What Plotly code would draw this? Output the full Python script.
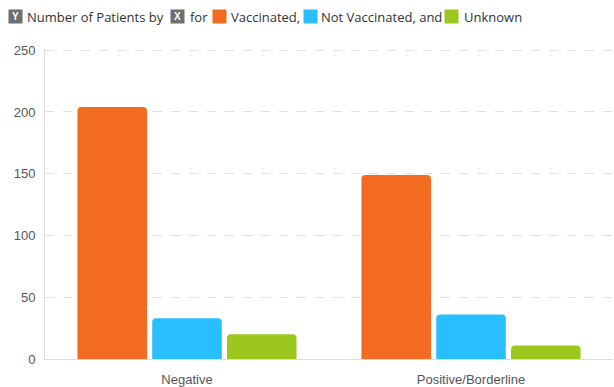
import plotly.graph_objects as go

categories = ["Negative", "Positive/Borderline"]
series_names = ["Vaccinated", "Not Vaccinated", "Unknown"]
vaccinated = [204, 149]
not_vaccinated = [33, 36]
unknown = [20, 11]
colors = ["#F26B21", "#29BEFF", "#9CC71D"]
y_ticks = [0, 50, 100, 150, 200, 250]

W, H = 614, 387
L, R, T, B = 45, 1, 49, 28
PW, PH = W - L - R, H - T - B

fig = go.Figure()
for name, vals, c in zip(series_names, [vaccinated, not_vaccinated, unknown], colors):
    fig.add_trace(go.Bar(x=categories, y=vals, name=name, marker=dict(color=c, cornerradius=4, line=dict(width=0))))

def px(x):
    return (x - L) / PW

def py(y):
    return (H - B - y) / PH

font = "Open Sans, sans-serif"
anns = []
def box(x, letter):
    anns.append(dict(x=px(x), y=py(17), xref="paper", yref="paper", xanchor="left", yanchor="middle",
                     text=f"<b>{letter}</b>", showarrow=False, bgcolor="#6E6E6E",
                     font=dict(color="white", size=10, family="Arial"), borderpad=0, width=13, height=13))
def txt(x, s):
    anns.append(dict(x=px(x), y=py(17), xref="paper", yref="paper", xanchor="left", yanchor="middle",
                     text=s, showarrow=False, font=dict(color="#333333", size=13, family=font)))
def sq(x, c):
    anns.append(dict(x=px(x), y=py(17), xref="paper", yref="paper", xanchor="left", yanchor="middle",
                     text=" ", showarrow=False, bgcolor=c, font=dict(size=8), width=13, height=13, borderpad=0))

box(8, "Y")
txt(25, "Number of Patients by")
box(170, "X")
txt(188, "for")
sq(212, colors[0])
txt(229, series_names[0] + ",")
sq(303, colors[1])
txt(319, series_names[1] + ", and")
sq(444, colors[2])
txt(462, series_names[2])

fig.update_layout(
    width=W, height=H,
    margin=dict(l=L, r=R, t=T, b=B),
    paper_bgcolor="white", plot_bgcolor="white",
    showlegend=False,
    barmode="group", bargap=0.21, bargroupgap=0.07,
    annotations=anns,
    xaxis=dict(showline=True, linecolor="#DDDDDD", linewidth=1, ticks="", showgrid=False, automargin=False,
               tickfont=dict(color="#555555", size=13, family="Arial"), ticklabelstandoff=8),
    yaxis=dict(range=[0, 251], tickvals=y_ticks, showline=True, linecolor="#DDDDDD", linewidth=1,
               automargin=False,
               gridcolor="#E0E0E0", griddash="dash", gridwidth=1, zeroline=False, ticks="",
               tickfont=dict(color="#555555", size=13, family="Arial"), ticklabelstandoff=6),
)
fig.write_html("out.html")
